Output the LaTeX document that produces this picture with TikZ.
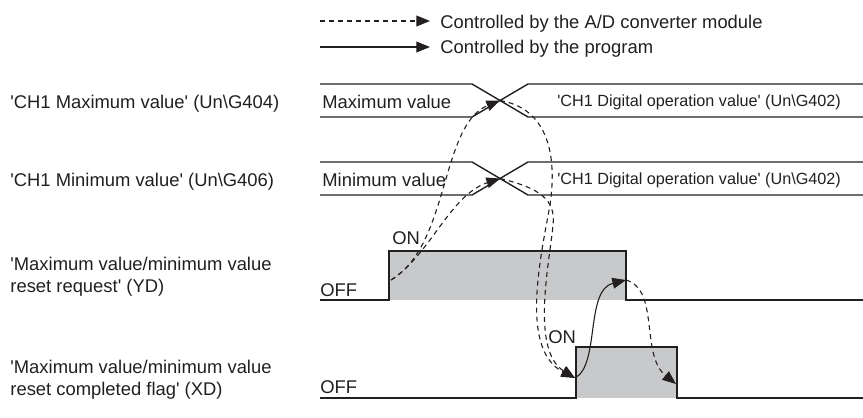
\documentclass[tikz,border=0pt]{standalone}
\usepackage{fontspec}
\setmainfont{Liberation Sans}
\usetikzlibrary{arrows.meta}
\definecolor{InkGray}{HTML}{231F20}
\definecolor{PulseFill}{HTML}{C8C9CB}
\newcommand{\tq}{\textquotesingle}

\begin{document}
\begin{tikzpicture}[
  x=0.5pt, y=-0.5pt,
  sig/.style={draw=InkGray, line width=0.7pt},
  plc/.style={-{Triangle[length=6.8pt,width=5.4pt]}, draw=InkGray, fill=InkGray,
    line width=0.55pt, dash pattern=on 2.5pt off 2pt},
  prog/.style={-{Triangle[length=6.8pt,width=5.4pt]}, draw=InkGray, fill=InkGray,
    line width=0.55pt},
  lbl/.style={inner sep=0pt, anchor=base west, align=left, text=InkGray,
    font=\fontsize{9.2}{11}\selectfont},
  val/.style={inner sep=0pt, anchor=base west, text=InkGray,
    font=\fontsize{8.1}{10}\selectfont}
]
  \useasboundingbox (0,0) rectangle (863,418);

  % legend
  \coordinate (lgDash) at (320,21);
  \coordinate (lgDashEnd) at (430,21);
  \coordinate (lgLine) at (320,47);
  \coordinate (lgLineEnd) at (430,47);
  \draw[plc, fill=none] (lgDash) -- (lgDashEnd);
  \draw[prog, fill=none] (lgLine) -- (lgLineEnd);
  \node[lbl] (lgPlc) at (440,28) {Controlled by the A/D converter module};
  \node[lbl] (lgProg) at (440,53) {Controlled by the program};

  % signal names
  \node[lbl] (maxName) at (10,108) {\tq CH1 Maximum value\tq{} (Un\textbackslash G404)};
  \node[lbl] (minName) at (10,186) {\tq CH1 Minimum value\tq{} (Un\textbackslash G406)};
  \node[lbl] (ydName) at (10,292) {\tq Maximum value/minimum value\\reset request\tq{} (YD)};
  \node[lbl] (xdName) at (10,395) {\tq Maximum value/minimum value\\reset completed flag\tq{} (XD)};

  % value buses
  \foreach \yc in {100.5,178.5}{
    \draw[sig] (320,\yc-16.5) -- (472,\yc-16.5) -- (528,\yc+16.5) -- (863,\yc+16.5);
    \draw[sig] (320,\yc+16.5) -- (472,\yc+16.5) -- (528,\yc-16.5) -- (863,\yc-16.5);
  }
  \coordinate (maxX) at (500,100.5);
  \coordinate (minX) at (500,178.5);
  \node[lbl] (maxOld) at (322,108) {Maximum value};
  \node[lbl] (minOld) at (322,186) {Minimum value};
  \node[val] (maxNew) at (557,106) {\tq CH1 Digital operation value\tq{} (Un\textbackslash G402)};
  \node[val] (minNew) at (557,184) {\tq CH1 Digital operation value\tq{} (Un\textbackslash G402)};

  % YD pulse
  \fill[PulseFill] (389,251) rectangle (626,300);
  \draw[sig] (320,300) -- (389,300) -- (389,251) -- (626,251) -- (626,300) -- (863,300);
  \node[lbl] (ydOffTxt) at (320,296) {OFF};
  \node[lbl] (ydOnTxt) at (392,244) {ON};
  \coordinate (ydOn) at (391,280);
  \coordinate (ydOff) at (626,280);

  % XD pulse
  \fill[PulseFill] (576,347) rectangle (677,398);
  \draw[sig] (320,398) -- (576,398) -- (576,347) -- (677,347) -- (677,398) -- (863,398);
  \node[lbl] (xdOffTxt) at (320,393) {OFF};
  \node[lbl] (xdOnTxt) at (548,343) {ON};
  \coordinate (xdOn) at (575,378);
  \coordinate (xdOff) at (676,384);

  % handshake
  \draw[plc, fill=none] (ydOn) .. controls (450,245) and (440,125) .. (maxX);
  \draw[plc, fill=none] (ydOn) .. controls (430,255) and (450,195) .. (minX);
  \draw[plc, fill=none] (maxX) .. controls (545,108) and (558,150) .. (550,205)
    .. controls (540,260) and (520,350) .. (xdOn);
  \draw[plc, fill=none] (minX) .. controls (540,188) and (556,200) .. (553,225)
    .. controls (550,260) and (530,350) .. (xdOn);
  \draw[prog, fill=none] (xdOn) .. controls (600,365) and (585,290) .. (ydOff);
  \draw[plc, fill=none] (ydOff) .. controls (660,290) and (640,355) .. (xdOff);
\end{tikzpicture}
\end{document}
